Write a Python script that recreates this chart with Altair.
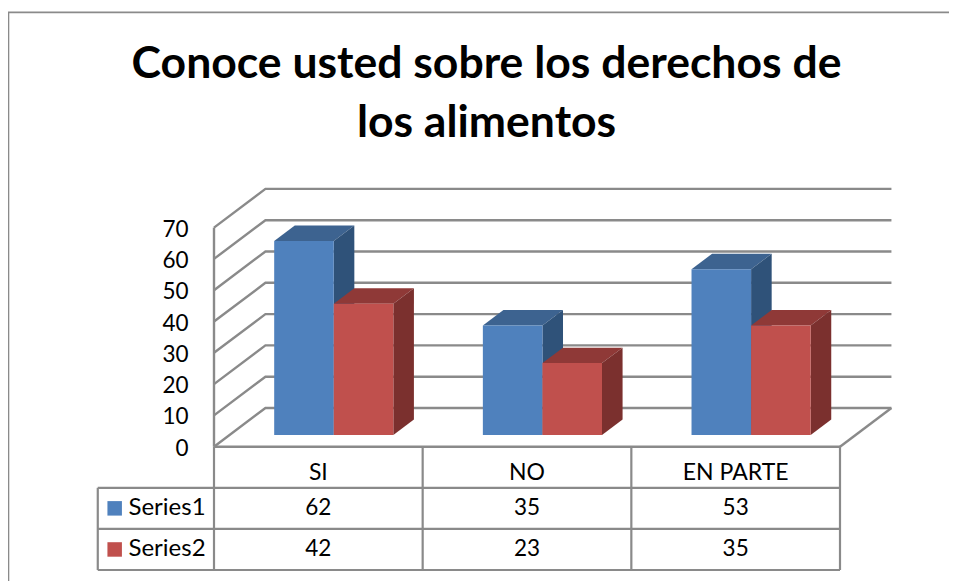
import altair as alt
import pandas as pd

title_lines = ["Conoce usted sobre los derechos de", "los alimentos"]
categories = ["SI", "NO", "EN PARTE"]
series_names = ["Series1", "Series2"]
series1 = [62, 35, 53]
series2 = [42, 23, 35]
y_ticks = [0, 10, 20, 30, 40, 50, 60, 70]
front_colors = ["#4F81BD", "#C0504D"]
top_colors = ["#3D6390", "#8F3937"]
side_colors = ["#2F5279", "#7B302E"]

FONT = "Lato"
LINE = "#8A8A8A"
W, H = 941, 573
# depth of the 3-D box in category and value units
DX, DY = 0.2465, 12.36
BAR_W = 0.2855
D0, D1 = 0.30, 0.70   # front / back of bars along the depth

x_scale = alt.Scale(domain=[0, 3], range=[206, 832])
y_scale = alt.Scale(domain=[0, 70], range=[438.7, 219.6])
t_scale = alt.Scale(domain=[0, 3], range=[438.7, 562])
X = lambda f="x": alt.X(f"{f}:Q", scale=x_scale, axis=None)
Y = lambda f="y": alt.Y(f"{f}:Q", scale=y_scale, axis=None)
T = lambda f="y": alt.Y(f"{f}:Q", scale=t_scale, axis=None)

layers = []

# frame of the picture
frame = alt.Chart(pd.DataFrame({"a": [0]}))
layers.append(frame.mark_rule(color=LINE, strokeWidth=1.8).encode(
    x=alt.value(0.4), y=alt.value(4.4), y2=alt.value(H)))
layers.append(frame.mark_rule(color=LINE, strokeWidth=1.8).encode(
    x=alt.value(0), x2=alt.value(W), y=alt.value(4.4)))

# walls: one polyline per tick, front-left -> back-left -> back-right
rows = []
for t in y_ticks:
    rows += [{"t": t, "o": 0, "x": 0, "y": t},
             {"t": t, "o": 1, "x": DX, "y": t + DY},
             {"t": t, "o": 2, "x": 3 + DX, "y": t + DY}]
walls = pd.DataFrame(rows)
layers.append(alt.Chart(walls).mark_line(color=LINE, strokeWidth=2.4).encode(
    x=X(), y=Y(), detail="t:N", order="o:Q"))
# left wall front edge, floor front edge and floor right edge
edges = pd.DataFrame([
    {"e": "a", "o": 0, "x": 0, "y": 0}, {"e": "a", "o": 1, "x": 0, "y": y_ticks[-1]},
    {"e": "b", "o": 0, "x": 3, "y": 0}, {"e": "b", "o": 1, "x": 3 + DX, "y": DY},
    {"e": "c", "o": 0, "x": 0, "y": 0}, {"e": "c", "o": 1, "x": 3, "y": 0},
])
layers.append(alt.Chart(edges).mark_line(color=LINE, strokeWidth=2.4).encode(
    x=X(), y=Y(), detail="e:N", order="o:Q"))

# invisible layer carrying the real value axis
layers.append(alt.Chart(pd.DataFrame({"y": y_ticks})).mark_point(opacity=0).encode(
    y=alt.Y("y:Q", scale=y_scale, axis=alt.Axis(
        orient="left", values=y_ticks, domain=False, ticks=False, grid=False, title=None,
        labelFont=FONT, labelFontSize=22.5, labelColor="#000000", labelPadding=0, offset=-180,
        labelBaseline="middle", labelOffset=1.5))))

# bars
for s, values in enumerate([series1, series2]):
    top, side, front = [], [], []
    for i, (c, v) in enumerate(zip(categories, values)):
        x0 = i + 0.5 - BAR_W + s * BAR_W + D0 * DX
        x1 = x0 + BAR_W
        dx = (D1 - D0) * DX
        b = D0 * DY
        dz = (D1 - D0) * DY
        front.append({"c": c, "x": x0, "x2": x1, "y": v + b, "y2": b})
        side += [{"c": c, "x": x1, "y": v + b, "y2": b},
                 {"c": c, "x": x1 + dx, "y": v + b + dz, "y2": b + dz}]
        top += [{"c": c, "x": x0, "y": v + b, "y2": v + b},
                {"c": c, "x": x0 + dx, "y": v + b + dz, "y2": v + b},
                {"c": c, "x": x1, "y": v + b + dz, "y2": v + b},
                {"c": c, "x": x1 + dx, "y": v + b + dz, "y2": v + b + dz}]
    layers.append(alt.Chart(pd.DataFrame(top)).mark_area(color=top_colors[s], orient="vertical").encode(
        x=X(), y=Y(), y2="y2:Q", detail="c:N"))
    layers.append(alt.Chart(pd.DataFrame(side)).mark_area(color=side_colors[s], orient="vertical").encode(
        x=X(), y=Y(), y2="y2:Q", detail="c:N"))
    layers.append(alt.Chart(pd.DataFrame(front)).mark_rect(color=front_colors[s]).encode(
        x=X(), x2="x2:Q", y=Y(), y2="y2:Q"))

# data table
LEG = -0.557
hl = pd.DataFrame([{"x": LEG, "x2": 3, "y": r} for r in [1, 2, 3]])
vl = pd.DataFrame([{"x": x, "y": 0, "y2": 3} for x in [0, 1, 2, 3]] + [{"x": LEG, "y": 1, "y2": 3}])
layers.append(alt.Chart(hl).mark_rule(color=LINE, strokeWidth=2.2).encode(x=X(), x2="x2:Q", y=T()))
layers.append(alt.Chart(vl).mark_rule(color=LINE, strokeWidth=2.2).encode(x=X(), y=T(), y2="y2:Q"))

header = pd.DataFrame([{"x": i + 0.5, "y": 0.65, "t": c} for i, c in enumerate(categories)])
layers.append(alt.Chart(header).mark_text(
    font=FONT, fontSize=23, color="#000000", align="center", baseline="middle").encode(
    x=X(), y=T(), text="t:N"))
cells = []
for r, values in enumerate([series1, series2]):
    cells += [{"x": i + 0.5, "y": r + 1.5, "t": str(v)} for i, v in enumerate(values)]
layers.append(alt.Chart(pd.DataFrame(cells)).mark_text(
    font=FONT, fontSize=22.5, color="#000000", align="center", baseline="middle").encode(
    x=X(), y=T(), text="t:N"))

legend = pd.DataFrame([{"x": -0.476, "tx": -0.41, "y": r + 1.5, "t": n, "s": front_colors[r]}
                       for r, n in enumerate(series_names)])
layers.append(alt.Chart(legend).mark_square(size=210, opacity=1).encode(
    x=X(), y=T(), fill=alt.Fill("s:N", scale=None), stroke=alt.value(None)))
layers.append(alt.Chart(legend).mark_text(
    font=FONT, fontSize=24, color="#000000", align="left", baseline="middle").encode(
    x=X("tx"), y=T(), text="t:N"))

chart = alt.layer(*layers).resolve_scale(y="independent").properties(
    width=W, height=H, padding=0,
    autosize=alt.AutoSizeParams(type="none"),
    title=alt.TitleParams(text=title_lines, anchor="middle", frame="group",
                          font=FONT, fontSize=44.5, fontWeight="bold", color="#000000",
                          lineHeight=59, baseline="alphabetic", offset=0, dy=173, dx=8),
).configure_view(stroke=None)

chart.save("out.html", embed_options={"renderer": "svg", "actions": False})
